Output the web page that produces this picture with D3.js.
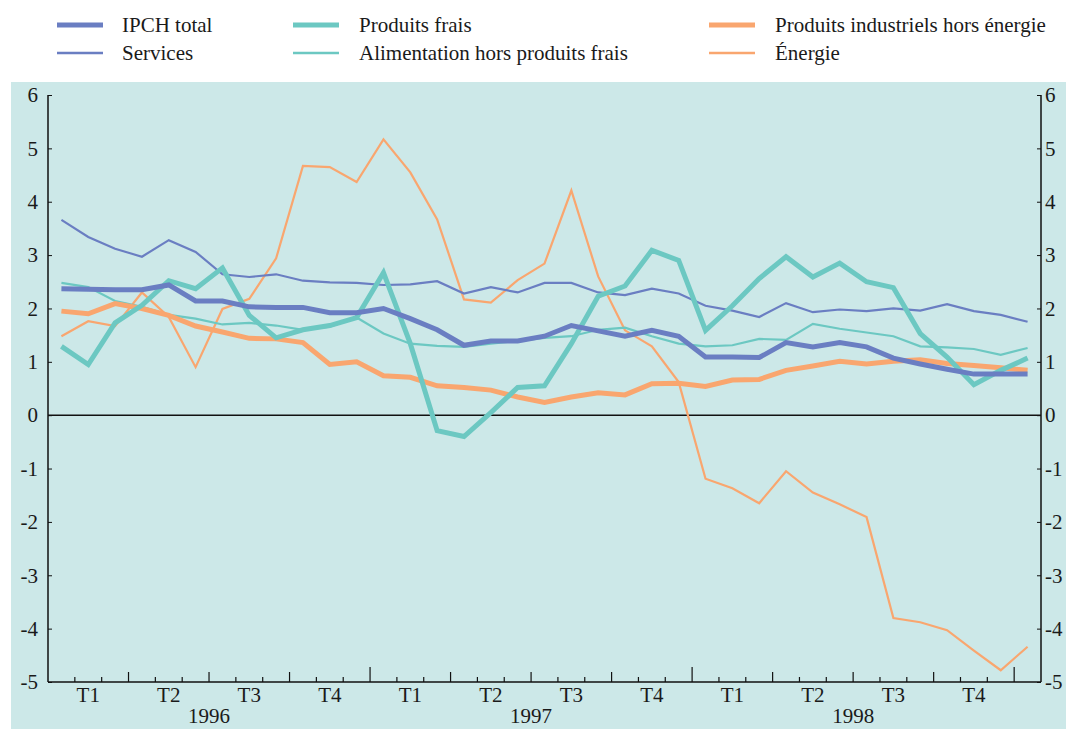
<!DOCTYPE html>
<html>
<head>
<meta charset="utf-8">
<script src="https://cdn.jsdelivr.net/npm/d3@7"></script>
<style>
  body { margin: 0; background: #fff; }
  svg text { font-family: "Liberation Serif", "Times New Roman", serif; fill: #1a1a1a; }
</style>
</head>
<body>
<div id="chart"></div>
<script>
// Monthly values, January 1996 to January 1999
const ipchTotal = [2.37, 2.36, 2.35, 2.35, 2.44, 2.14, 2.14, 2.03, 2.02, 2.02, 1.92, 1.92,
  2.0, 1.81, 1.6, 1.31, 1.39, 1.39, 1.48, 1.68, 1.58, 1.48, 1.59, 1.48,
  1.09, 1.09, 1.08, 1.36, 1.28, 1.36, 1.28, 1.07, 0.96, 0.86, 0.77, 0.77, 0.77];
const services = [3.66, 3.34, 3.12, 2.97, 3.28, 3.06, 2.64, 2.59, 2.64, 2.52, 2.49, 2.48,
  2.44, 2.45, 2.51, 2.28, 2.4, 2.3, 2.48, 2.48, 2.3, 2.25, 2.37, 2.28,
  2.05, 1.96, 1.84, 2.1, 1.93, 1.98, 1.95, 2.0, 1.96, 2.08, 1.95, 1.88, 1.75];
const produitsFrais = [1.29, 0.95, 1.73, 2.06, 2.52, 2.37, 2.76, 1.87, 1.45, 1.6, 1.68, 1.83,
  2.67, 1.34, -0.29, -0.4, 0.05, 0.52, 0.55, 1.34, 2.23, 2.42, 3.09, 2.9,
  1.59, 2.05, 2.56, 2.97, 2.59, 2.85, 2.5, 2.39, 1.53, 1.09, 0.57, 0.84, 1.07];
const alimentation = [2.48, 2.4, 2.14, 2.03, 1.88, 1.81, 1.7, 1.73, 1.68, 1.6, 1.66, 1.83,
  1.53, 1.34, 1.3, 1.28, 1.34, 1.39, 1.45, 1.48, 1.6, 1.64, 1.48, 1.34,
  1.29, 1.31, 1.43, 1.41, 1.71, 1.62, 1.55, 1.48, 1.29, 1.27, 1.24, 1.13, 1.26];
const industriels = [1.95, 1.9, 2.09, 2.0, 1.87, 1.67, 1.56, 1.44, 1.43, 1.36, 0.95, 1.0,
  0.74, 0.71, 0.55, 0.52, 0.47, 0.34, 0.24, 0.34, 0.42, 0.38, 0.59, 0.6,
  0.54, 0.66, 0.67, 0.84, 0.92, 1.01, 0.96, 1.01, 1.04, 0.97, 0.93, 0.89, 0.84];
const energie = [1.48, 1.76, 1.67, 2.3, 1.84, 0.9, 1.99, 2.18, 2.94, 4.67, 4.65, 4.37,
  5.17, 4.55, 3.67, 2.17, 2.11, 2.53, 2.84, 4.21, 2.6, 1.59, 1.29, 0.62,
  -1.19, -1.37, -1.65, -1.05, -1.45, -1.67, -1.91, -3.8, -3.88, -4.03, -4.41, -4.78, -4.34];

const quarterLabels = ["T1", "T2", "T3", "T4"];
const yearLabels = ["1996", "1997", "1998"];
const yTicks = [6, 5, 4, 3, 2, 1, 0, -1, -2, -3, -4, -5];

const blue = "#6a7ec2", teal = "#6cc8c2", orange = "#f9a66f";

const series = [
  {name: "IPCH total", values: ipchTotal, color: blue, width: 5},
  {name: "Services", values: services, color: blue, width: 2.2},
  {name: "Produits frais", values: produitsFrais, color: teal, width: 5},
  {name: "Alimentation hors produits frais", values: alimentation, color: teal, width: 2.2},
  {name: "Produits industriels hors énergie", values: industriels, color: orange, width: 5},
  {name: "Énergie", values: energie, color: orange, width: 2.2}
];

const width = 1066, height = 729;
const plot = {left: 48, right: 1041, top: 95, bottom: 682};
const fontSize = 21;

const svg = d3.select("#chart").append("svg")
  .attr("width", width)
  .attr("height", height);

// panel background
svg.append("rect")
  .attr("x", 11).attr("y", 82)
  .attr("width", width - 11).attr("height", height - 82)
  .attr("fill", "#cce8e8");

const x = d3.scaleLinear().domain([0, 37]).range([plot.left, plot.right]);
const y = d3.scaleLinear().domain([-5, 6]).range([plot.bottom, plot.top]);

// y axes, ticks pointing inward, plain hyphen for negatives
const styleAxis = g => {
  g.select(".domain").attr("d", `M0,${plot.top}V${plot.bottom}`).attr("stroke", "#111").attr("stroke-width", 1.5);
  g.selectAll(".tick line").attr("stroke", "#111");
  g.selectAll("text").attr("font-size", fontSize).attr("font-family", "Liberation Serif");
};

svg.append("g")
  .attr("transform", `translate(${plot.left},0)`)
  .call(d3.axisLeft(y).tickValues(yTicks).tickFormat(d => String(d)).tickSize(-4).tickPadding(10))
  .call(styleAxis);

svg.append("g")
  .attr("transform", `translate(${plot.right},0)`)
  .call(d3.axisRight(y).tickValues(yTicks).tickFormat(d => String(d)).tickSize(-4).tickPadding(4))
  .call(styleAxis);

// bottom axis with month / quarter / year ticks
const xAxis = svg.append("g");
xAxis.append("line")
  .attr("x1", plot.left).attr("x2", plot.right)
  .attr("y1", plot.bottom).attr("y2", plot.bottom)
  .attr("stroke", "#111").attr("stroke-width", 1.5);

xAxis.selectAll("line.tick")
  .data(d3.range(1, 37))
  .join("line")
  .attr("class", "tick")
  .attr("x1", d => x(d)).attr("x2", d => x(d))
  .attr("y1", plot.bottom)
  .attr("y2", d => plot.bottom - (d % 12 === 0 ? 15 : d % 3 === 0 ? 10 : 5))
  .attr("stroke", "#111").attr("stroke-width", 1.2);

xAxis.selectAll("text.q")
  .data(d3.range(12))
  .join("text")
  .attr("class", "q")
  .attr("x", d => x(d * 3 + 1.5))
  .attr("y", 702)
  .attr("text-anchor", "middle")
  .attr("font-size", fontSize)
  .text(d => quarterLabels[d % 4]);

xAxis.selectAll("text.yr")
  .data(yearLabels)
  .join("text")
  .attr("class", "yr")
  .attr("x", (d, i) => x(i * 12 + 6))
  .attr("y", 723)
  .attr("text-anchor", "middle")
  .attr("font-size", fontSize)
  .text(d => d);

// zero line
svg.append("line")
  .attr("x1", plot.left).attr("x2", plot.right)
  .attr("y1", y(0)).attr("y2", y(0))
  .attr("stroke", "#111").attr("stroke-width", 1.5);

// series lines (thin ones first, then thick)
const line = d3.line()
  .x((d, i) => x(i + 0.5))
  .y(d => y(d));

const drawOrder = [series[5], series[3], series[1], series[4], series[2], series[0]];
svg.append("g")
  .selectAll("path")
  .data(drawOrder)
  .join("path")
  .attr("d", d => line(d.values))
  .attr("fill", "none")
  .attr("stroke", d => d.color)
  .attr("stroke-width", d => d.width)
  .attr("stroke-linejoin", "miter");

// legend
const legendCols = [57, 293, 709];
const legendRows = [25, 53];
const legend = svg.append("g")
  .selectAll("g")
  .data(series)
  .join("g")
  .attr("transform", (d, i) => `translate(${legendCols[Math.floor(i / 2)]},${legendRows[i % 2]})`);

legend.append("line")
  .attr("x1", 0).attr("x2", 46)
  .attr("stroke", d => d.color)
  .attr("stroke-width", d => d.width === 5 ? 5 : 2.5);

legend.append("text")
  .attr("x", (d, i) => [65, 66, 66][Math.floor(i / 2)])
  .attr("y", 7)
  .attr("font-size", fontSize)
  .text(d => d.name);
</script>
</body>
</html>
